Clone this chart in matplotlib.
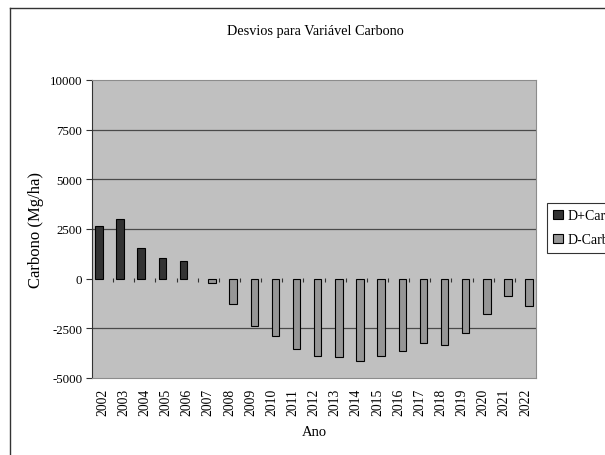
import matplotlib
matplotlib.use('Agg')
import matplotlib.pyplot as plt
from matplotlib.lines import Line2D
import numpy as np

# data
years = [str(y) for y in range(2002, 2023)]
d_plus_years = ['2002', '2003', '2004', '2005', '2006']
d_plus = [2650, 2990, 1560, 1020, 890]
d_minus_years = [str(y) for y in range(2007, 2023)]
d_minus = [-230, -1270, -2400, -2900, -3520, -3880, -3960, -4160,
           -3910, -3650, -3220, -3350, -2730, -1790, -890, -1390]
yticks = [-5000, -2500, 0, 2500, 5000, 7500, 10000]

plt.rcParams['font.family'] = ['Liberation Serif', 'DejaVu Serif']

fig = plt.figure(figsize=(6.05, 4.56), dpi=100)
W, H = 605, 456
ax = fig.add_axes([92 / W, 1 - 379 / H, (536 - 92) / W, (379 - 81) / H])
ax.set_facecolor('#c0c0c0')

pos = {y: i for i, y in enumerate(years)}
w = 0.35
xp = np.array([pos[y] for y in d_plus_years])
xm = np.array([pos[y] for y in d_minus_years])
ax.bar(xp - w / 2, d_plus, width=w, color='#333333', edgecolor='black',
       linewidth=0.8, label='D+Carbono', zorder=3)
ax.bar(xm + w / 2, d_minus, width=w, color='#969696', edgecolor='black',
       linewidth=0.8, label='D-Carbono', zorder=3)

ax.set_xlim(-0.5, len(years) - 0.5)
ax.set_ylim(-5000, 10000)
ax.set_yticks(yticks)
ax.set_yticklabels([str(t) for t in yticks], fontsize=9.3)
for t in [-2500, 2500, 5000, 7500]:
    ax.axhline(t, color='#4a4a4a', linewidth=0.9, zorder=1)

# small category ticks on the zero line
ax.vlines(np.arange(len(years)) + 0.5, -150, 40, color='#333333',
          linewidth=0.8, zorder=2)

ax.set_xticks(range(len(years)))
ax.set_xticklabels(years, rotation=90, fontsize=9.8)
ax.tick_params(axis='x', length=0, pad=7)
ax.tick_params(axis='y', length=4, color='#333333', pad=3)

for s in ['top', 'right', 'bottom']:
    ax.spines[s].set_color('#8c8c8c')
ax.spines['left'].set_color('#333333')

ax.set_ylabel('Carbono (Mg/ha)', fontsize=12, labelpad=4)
ax.set_xlabel('Ano', fontsize=10.5, labelpad=7)
fig.text(315 / W, 1 - 31 / H, 'Desvios para Variável Carbono',
         ha='center', va='center', fontsize=10.3)

leg = fig.legend(loc='upper left', bbox_to_anchor=(547 / W, 1 - 204 / H),
                 fontsize=10, frameon=True, fancybox=False, handlelength=0.7,
                 handleheight=0.7, handletextpad=0.3, borderpad=0.45,
                 labelspacing=0.8, borderaxespad=0)
leg.get_frame().set_edgecolor('black')
leg.get_frame().set_linewidth(0.8)

# outer chart frame (left and top edges visible)
fig.add_artist(Line2D([10 / W, 10 / W], [0, 1 - 9 / H], color='#333333',
                      linewidth=1, transform=fig.transFigure))
fig.add_artist(Line2D([10 / W, 1], [1 - 9 / H, 1 - 9 / H], color='#333333',
                      linewidth=1, transform=fig.transFigure))

fig.savefig('out.png', dpi=100)
